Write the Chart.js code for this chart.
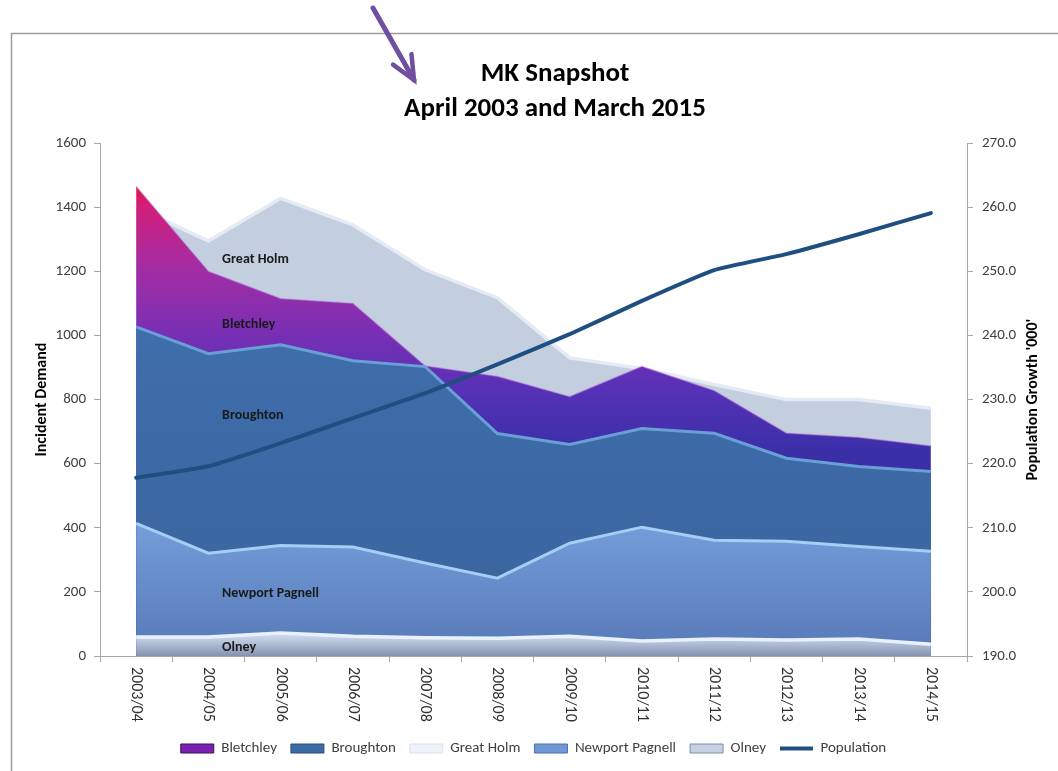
<!DOCTYPE html>
<html>
<head>
<meta charset="utf-8">
<script src="https://cdn.jsdelivr.net/npm/chart.js@4.4.1/dist/chart.umd.min.js"></script>
<style>
html,body{margin:0;padding:0;background:#ffffff;overflow:hidden;}
#wrap{position:absolute;left:0;top:0;width:1110px;height:771px;}
</style>
</head>
<body>
<div id="wrap"><canvas id="c" width="1110" height="771"></canvas></div>
<script>
const categories = ['2003/04','2004/05','2005/06','2006/07','2007/08','2008/09','2009/10','2010/11','2011/12','2012/13','2013/14','2014/15'];
const bletchley = [1465, 1200, 1115, 1100, 905, 872, 809, 903, 828, 695, 682, 655];
const broughton = [1027, 943, 971, 921, 903, 694, 660, 710, 695, 617, 591, 576];
const greatHolm = [1400, 1295, 1428, 1345, 1205, 1118, 930, 897, 847, 800, 800, 773];
const newportPagnell = [414, 321, 345, 340, 290, 243, 352, 402, 361, 358, 342, 327];
const olney = [59, 59, 72, 62, 57, 55, 62, 47, 53, 50, 53, 37];
const population = [217.8, 219.6, 223.2, 227.1, 231.0, 235.5, 240.2, 245.4, 250.2, 252.7, 255.8, 259.1];
const leftTicks = [0, 200, 400, 600, 800, 1000, 1200, 1400, 1600];
const rightTicks = [190, 200, 210, 220, 230, 240, 250, 260, 270];

const FONT = 'Carlito, Lato, "Open Sans", sans-serif';

// in-chart series labels (category index, value)
const areaLabels = [
  {text: 'Great Holm', at: 1.19, v: 1236},
  {text: 'Bletchley', at: 1.19, v: 1033},
  {text: 'Broughton', at: 1.19, v: 750},
  {text: 'Newport Pagnell', at: 1.19, v: 196},
  {text: 'Olney', at: 1.19, v: 25}
];

const gradCache = {};
function vGrad(chart, key, vTop, vBottom, stops) {
  const area = chart.chartArea;
  if (!area) return stops[0][1];
  const y = chart.scales.y;
  const y0 = y.getPixelForValue(vTop), y1 = y.getPixelForValue(vBottom);
  const k = key + ':' + y0 + ':' + y1;
  if (gradCache[k]) return gradCache[k];
  const g = chart.ctx.createLinearGradient(0, y0, 0, y1);
  stops.forEach(s => g.addColorStop(s[0], s[1]));
  gradCache[k] = g;
  return g;
}

const decoPlugin = {
  id: 'deco',
  beforeDraw(chart) {
    const c = chart.ctx;
    c.save();
    c.fillStyle = '#ffffff';
    c.fillRect(0, 0, chart.width, chart.height);
    c.strokeStyle = '#9a9a9a';
    c.lineWidth = 1.5;
    c.beginPath();
    c.moveTo(chart.width, 33.5);
    c.lineTo(11.5, 33.5);
    c.lineTo(11.5, chart.height);
    c.stroke();
    c.restore();
  },
  afterDatasetsDraw(chart) {
    const c = chart.ctx, xs = chart.scales.x, ys = chart.scales.y;
    c.save();
    c.font = 'bold 14px ' + FONT;
    c.fillStyle = '#1a1a1a';
    c.textAlign = 'left';
    c.textBaseline = 'middle';
    areaLabels.forEach(l => c.fillText(l.text, xs.getPixelForValue(l.at), ys.getPixelForValue(l.v)));
    c.restore();
  },
  afterDraw(chart) {
    const c = chart.ctx, xs = chart.scales.x, y1 = chart.scales.y1;
    c.save();
    // x tick labels, rotated clockwise
    c.font = '16px ' + FONT;
    c.fillStyle = '#303030';
    c.textAlign = 'left';
    c.textBaseline = 'middle';
    categories.forEach((lab, i) => {
      const x = xs.getPixelForTick(i);
      c.save();
      c.translate(x, xs.top + 11);
      c.rotate(Math.PI / 2);
      c.fillText(lab, 0, 0);
      c.restore();
    });
    // right axis title, reading bottom to top
    c.font = 'bold 16px ' + FONT;
    c.fillStyle = '#000';
    c.textAlign = 'center';
    c.textBaseline = 'middle';
    c.save();
    c.translate(1033, (y1.top + y1.bottom) / 2);
    c.rotate(-Math.PI / 2);
    c.fillText("Population Growth '000'", 0, 0);
    c.restore();
    // arrow
    c.strokeStyle = '#6f4f9e';
    c.lineWidth = 5;
    c.lineCap = 'round';
    const tip = [414, 80], start = [373, 8];
    const ang = Math.atan2(tip[1] - start[1], tip[0] - start[0]);
    c.beginPath();
    c.moveTo(start[0], start[1]);
    c.lineTo(tip[0], tip[1]);
    c.stroke();
    c.lineWidth = 4.5;
    c.beginPath();
    c.moveTo(tip[0] - 26 * Math.cos(ang - 0.42), tip[1] - 26 * Math.sin(ang - 0.42));
    c.lineTo(tip[0], tip[1]);
    c.lineTo(tip[0] - 26 * Math.cos(ang + 0.42), tip[1] - 26 * Math.sin(ang + 0.42));
    c.stroke();
    c.restore();
  }
};

const legendStyles = [
  {fillStyle: '#7a1fb0', strokeStyle: '#3a1060', pointStyle: 'rect', lineWidth: 1},
  {fillStyle: '#3d6ba6', strokeStyle: '#2a4d7e', pointStyle: 'rect', lineWidth: 1},
  {fillStyle: '#eef2f8', strokeStyle: '#d8e0ec', pointStyle: 'rect', lineWidth: 1},
  {fillStyle: '#6f98d6', strokeStyle: '#4a6fa8', pointStyle: 'rect', lineWidth: 1},
  {fillStyle: '#c6d0e2', strokeStyle: '#7f8cab', pointStyle: 'rect', lineWidth: 1},
  {fillStyle: '#1f4e80', strokeStyle: '#1f4e80', pointStyle: 'line', lineWidth: 4}
];

const chart = new Chart(document.getElementById('c'), {
  type: 'line',
  data: {
    labels: categories,
    datasets: [
      {
        label: 'Bletchley', data: bletchley, order: 4, yAxisID: 'y', fill: 'origin',
        borderColor: 'rgba(170,90,210,0.45)', borderWidth: 1.5, tension: 0, pointRadius: 0,
        backgroundColor: (ctx) => vGrad(ctx.chart, 'bl', 1470, 640, [[0, '#ea123a'], [0.08, '#d21f7a'], [0.3, '#a62ca2'], [0.55, '#7a2fb4'], [0.78, '#5531b6'], [1, '#3b2fa8']])
      },
      {
        label: 'Broughton', data: broughton, order: 3, yAxisID: 'y', fill: 'origin',
        borderColor: '#6a9ed6', borderWidth: 3, tension: 0, pointRadius: 0,
        backgroundColor: (ctx) => vGrad(ctx.chart, 'br', 1030, 0, [[0, '#3e6eab'], [0.7, '#3b67a2'], [1, '#375d92']])
      },
      {
        label: 'Great Holm', data: greatHolm, order: 5, yAxisID: 'y', fill: 'origin',
        borderColor: '#e4ebf4', borderWidth: 3.5, tension: 0, pointRadius: 0,
        backgroundColor: '#c3cede'
      },
      {
        label: 'Newport Pagnell', data: newportPagnell, order: 2, yAxisID: 'y', fill: 'origin',
        borderColor: '#a6cdf4', borderWidth: 3, tension: 0, pointRadius: 0,
        backgroundColor: (ctx) => vGrad(ctx.chart, 'np', 410, 0, [[0, '#739dda'], [1, '#5878b6']])
      },
      {
        label: 'Olney', data: olney, order: 1, yAxisID: 'y', fill: 'origin',
        borderColor: '#e8f2fe', borderWidth: 3.5, tension: 0, pointRadius: 0,
        backgroundColor: (ctx) => vGrad(ctx.chart, 'ol', 60, 0, [[0, '#c9d5ea'], [1, '#8592b0']])
      },
      {
        label: 'Population', data: population, order: 0, yAxisID: 'y1', fill: false,
        borderColor: '#1f4e80', borderWidth: 4, tension: 0.15, pointRadius: 0,
        borderCapStyle: 'round', backgroundColor: '#1f4e80'
      }
    ]
  },
  options: {
    responsive: false,
    animation: false,
    devicePixelRatio: 1,
    layout: {padding: {top: 0, right: 0, bottom: 5, left: 0}},
    plugins: {
      tooltip: {enabled: false},
      title: {
        display: true,
        text: ['MK Snapshot', 'April 2003 and March 2015'],
        color: '#000000',
        font: {family: FONT, size: 27, weight: 'bold', lineHeight: 1.3},
        padding: {top: 57, bottom: 16}
      },
      legend: {
        position: 'bottom',
        fullSize: false,
        sort: (a, b) => a.datasetIndex - b.datasetIndex,
        labels: {
          usePointStyle: true,
          pointStyleWidth: 33,
          boxHeight: 9,
          color: '#404040',
          font: {family: FONT, size: 15},
          padding: 14,
          generateLabels: (ch) => ch.data.datasets.map((ds, i) => Object.assign({
            text: ds.label, datasetIndex: i, hidden: false, fontColor: '#404040'
          }, legendStyles[i]))
        }
      }
    },
    scales: {
      x: {
        type: 'category',
        offset: true,
        grid: {display: true, drawOnChartArea: false, drawTicks: true, tickLength: 6, offset: true, color: '#a6a6a6'},
        border: {display: true, color: '#a6a6a6', width: 1},
        ticks: {color: 'rgba(0,0,0,0)', minRotation: 90, maxRotation: 90, autoSkip: false, font: {family: FONT, size: 14}},
        afterFit: (s) => { s.height = 71; }
      },
      y: {
        position: 'left',
        min: 0, max: 1600,
        afterBuildTicks: (s) => { s.ticks = leftTicks.map(v => ({value: v})); },
        grid: {display: true, drawOnChartArea: false, drawTicks: true, tickLength: 6, color: '#a6a6a6'},
        border: {display: true, color: '#a6a6a6', width: 1},
        ticks: {color: '#404040', font: {family: FONT, size: 15}, padding: 8, callback: (v) => String(v)},
        title: {display: true, text: 'Incident Demand', color: '#000', font: {family: FONT, size: 16, weight: 'bold'}, padding: {top: 32, bottom: 0}},
        afterFit: (s) => { s.width = 100; }
      },
      y1: {
        position: 'right',
        min: 190, max: 270,
        afterBuildTicks: (s) => { s.ticks = rightTicks.map(v => ({value: v})); },
        grid: {display: true, drawOnChartArea: false, drawTicks: true, tickLength: 6, color: '#a6a6a6'},
        border: {display: true, color: '#a6a6a6', width: 1},
        ticks: {color: '#404040', font: {family: FONT, size: 15}, padding: 9, callback: (v) => Number(v).toFixed(1)},
        afterFit: (s) => { s.width = 143; }
      }
    }
  },
  plugins: [decoPlugin]
});
</script>
</body>
</html>
